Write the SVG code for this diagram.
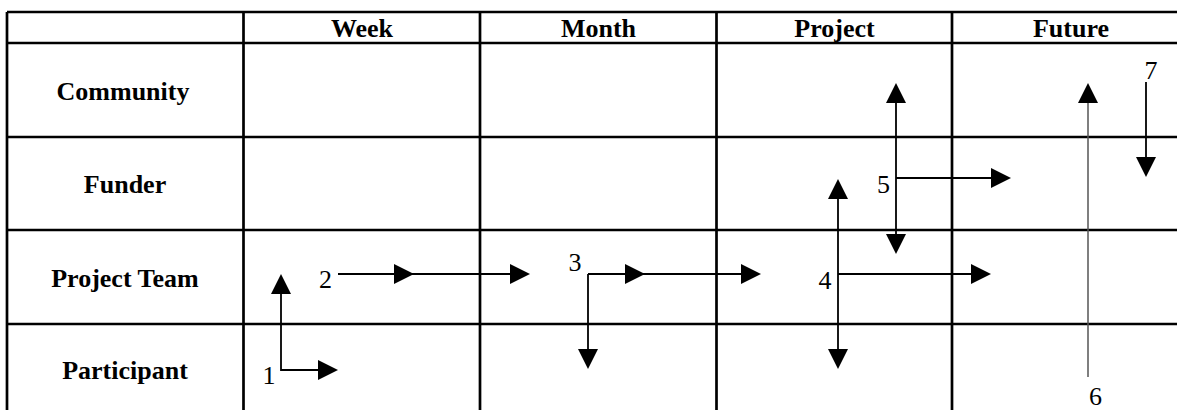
<svg xmlns="http://www.w3.org/2000/svg" width="1177" height="410" viewBox="0 0 1177 410">
<style>
.grid{stroke:#000;stroke-width:2.7;fill:none}
.hd{font-family:"Liberation Serif","Times New Roman",serif;font-weight:bold;font-size:26px;text-anchor:middle;fill:#000}
.num{font-family:"Liberation Serif","Times New Roman",serif;font-size:26px;text-anchor:middle;fill:#000}
.ar{stroke:#000;stroke-width:1.8;fill:none}
.ar6{stroke:#555;stroke-width:1.5;fill:none}
</style>
<defs>
<marker id="ah" markerUnits="userSpaceOnUse" markerWidth="20" markerHeight="20" viewBox="0 0 20 20" refX="0" refY="10" orient="auto-start-reverse">
<path d="M0,0 L20,10 L0,20 z" fill="#000"/>
</marker>
</defs>
<rect width="1177" height="410" fill="#fff"/>
<g id="grid" class="grid">
<line x1="7" y1="12" x2="1177" y2="12"/>
<line x1="7" y1="43" x2="1177" y2="43"/>
<line x1="7" y1="137" x2="1177" y2="137"/>
<line x1="7" y1="230" x2="1177" y2="230"/>
<line x1="7" y1="324" x2="1177" y2="324"/>
<line x1="7" y1="12" x2="7" y2="410"/>
<line x1="243.5" y1="12" x2="243.5" y2="410"/>
<line x1="480" y1="12" x2="480" y2="410"/>
<line x1="716.5" y1="12" x2="716.5" y2="410"/>
<line x1="952" y1="12" x2="952" y2="410"/>
</g>
<g id="col-headers">
<text class="hd" x="362" y="36.5">Week</text>
<text class="hd" x="598.5" y="36.5">Month</text>
<text class="hd" x="834.5" y="36.5">Project</text>
<text class="hd" x="1071" y="36.5">Future</text>
</g>
<g id="row-community"><text class="hd" x="123" y="100">Community</text></g>
<g id="row-funder"><text class="hd" x="125" y="193">Funder</text></g>
<g id="row-project-team"><text class="hd" x="125" y="287">Project Team</text></g>
<g id="row-participant"><text class="hd" x="125" y="379">Participant</text></g>
<g id="connectors">
<path id="c1" class="ar" d="M281,294 L281,370 L318,370" marker-start="url(#ah)" marker-end="url(#ah)"/>
<path id="c2" class="ar" d="M338,274 L394,274 L510,274" marker-mid="url(#ah)" marker-end="url(#ah)"/>
<path id="c3h" class="ar" d="M588,274 L625,274 L741,274" marker-mid="url(#ah)" marker-end="url(#ah)"/>
<path id="c3v" class="ar" d="M588,274 L588,349" marker-end="url(#ah)"/>
<path id="c4v" class="ar" d="M838,199 L838,349" marker-start="url(#ah)" marker-end="url(#ah)"/>
<path id="c4h" class="ar" d="M838,274 L971,274" marker-end="url(#ah)"/>
<path id="c5v" class="ar" d="M896,103 L896,234" marker-start="url(#ah)" marker-end="url(#ah)"/>
<path id="c5h" class="ar" d="M896,178 L991,178" marker-end="url(#ah)"/>
<path id="c6" class="ar6" d="M1088,377 L1088,103" marker-end="url(#ah)"/>
<path id="c7" class="ar" d="M1146,82 L1146,157" marker-end="url(#ah)"/>
</g>
<g id="connector-labels">
<text class="num" x="269" y="384">1</text>
<text class="num" x="325.5" y="288">2</text>
<text class="num" x="575" y="271">3</text>
<text class="num" x="825" y="289">4</text>
<text class="num" x="883.5" y="193">5</text>
<text class="num" x="1095.5" y="405">6</text>
<text class="num" x="1151" y="79">7</text>
</g>
</svg>
